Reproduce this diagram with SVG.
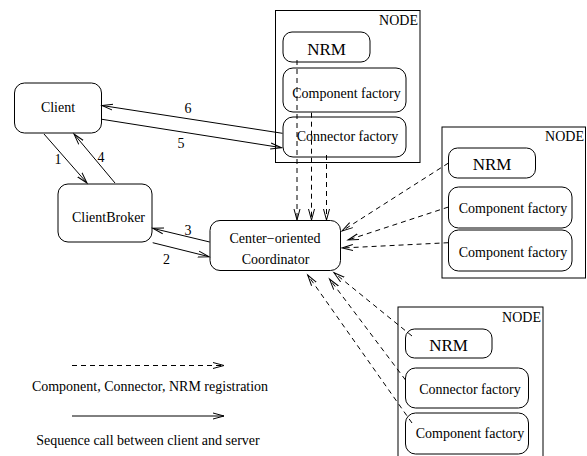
<svg xmlns="http://www.w3.org/2000/svg" width="587" height="456" viewBox="0 0 587 456">
<style>
  .box{fill:none;stroke:#000;stroke-width:1}
  .t{font-family:"Liberation Serif","Times New Roman",serif;font-size:14px;fill:#000;text-anchor:middle}
  .nrm{font-size:17px}
  .lbl{text-anchor:end}
  .ln{fill:none;stroke:#000;stroke-width:1;marker-end:url(#ah)}
  .dash{stroke-dasharray:5,4}
</style>
<defs>
  <marker id="ah" markerUnits="userSpaceOnUse" markerWidth="14" markerHeight="10" refX="11" refY="4" orient="auto">
    <path d="M0,1 L11,4 L0,7" fill="none" stroke="#000" stroke-width="1"/>
  </marker>
</defs>
<rect width="587" height="456" fill="#fff"/>

<g id="node-top">
  <rect class="box" x="275.5" y="10.5" width="144.5" height="152"/>
  <text class="t lbl" x="418" y="25">NODE</text>
  <rect class="box" x="283" y="32" width="87" height="30" rx="9"/>
  <text class="t nrm" x="326.5" y="54.5">NRM</text>
  <rect class="box" x="283" y="68" width="123" height="44" rx="10"/>
  <text class="t" x="346.5" y="98">Component factory</text>
  <rect class="box" x="283" y="117" width="123" height="40" rx="10"/>
  <text class="t" x="347.5" y="141">Connector factory</text>
</g>

<g id="node-right">
  <rect class="box" x="442" y="127" width="143.5" height="151"/>
  <text class="t lbl" x="584" y="141">NODE</text>
  <rect class="box" x="448.5" y="148" width="87" height="30" rx="9"/>
  <text class="t nrm" x="492" y="170">NRM</text>
  <rect class="box" x="448.5" y="187" width="123.5" height="41" rx="10"/>
  <text class="t" x="513" y="213">Component factory</text>
  <rect class="box" x="448.5" y="230" width="123.5" height="41" rx="10"/>
  <text class="t" x="513" y="257">Component factory</text>
</g>

<g id="node-bottom">
  <rect class="box" x="398" y="307" width="145" height="160"/>
  <text class="t lbl" x="541" y="322">NODE</text>
  <rect class="box" x="405.5" y="329" width="86.5" height="29" rx="9"/>
  <text class="t nrm" x="448.5" y="351">NRM</text>
  <rect class="box" x="405.5" y="368" width="123" height="40" rx="10"/>
  <text class="t" x="470" y="394">Connector factory</text>
  <rect class="box" x="405.5" y="413" width="123" height="41" rx="10"/>
  <text class="t" x="470" y="438">Component factory</text>
</g>

<g id="client">
  <rect class="box" x="14.5" y="83" width="87" height="50" rx="10"/>
  <text class="t" x="58" y="112">Client</text>
</g>

<g id="clientbroker">
  <rect class="box" x="58" y="184" width="94" height="58" rx="10"/>
  <text class="t" x="108.5" y="222">ClientBroker</text>
</g>

<g id="coordinator">
  <rect class="box" x="210" y="220.5" width="130.5" height="50" rx="10"/>
  <text class="t" x="275" y="242.5">Center−oriented</text>
  <text class="t" x="275.5" y="264">Coordinator</text>
</g>

<g id="connectors">
  <line class="ln" x1="282.5" y1="133.3" x2="102" y2="105.5"/>
  <line class="ln" x1="102" y1="119.3" x2="281.5" y2="147.7"/>
  <line class="ln" x1="44" y1="134" x2="87" y2="183"/>
  <line class="ln" x1="115" y1="183" x2="74" y2="134"/>
  <line class="ln" x1="209.7" y1="242" x2="152.7" y2="228.3"/>
  <line class="ln" x1="152.7" y1="242.7" x2="209" y2="256.7"/>

  <line class="ln dash" x1="297" y1="60" x2="297" y2="220"/>
  <line class="ln dash" x1="311.5" y1="112.7" x2="311.5" y2="220"/>
  <line class="ln dash" x1="326.5" y1="155" x2="326.5" y2="220"/>

  <line class="ln dash" x1="448.5" y1="163" x2="342" y2="231"/>
  <line class="ln dash" x1="448.5" y1="207" x2="348" y2="240"/>
  <line class="ln dash" x1="448.5" y1="242.7" x2="342" y2="248"/>

  <line class="ln dash" x1="412" y1="336" x2="334" y2="272.7"/>
  <line class="ln dash" x1="405.5" y1="380" x2="329.5" y2="279"/>
  <line class="ln dash" x1="412" y1="423" x2="307.7" y2="275"/>

  <line class="ln dash" x1="72" y1="365.5" x2="224" y2="365.5"/>
  <line class="ln" x1="72" y1="416" x2="224" y2="416"/>
</g>

<g id="labels">
  <text class="t" x="188" y="113">6</text>
  <text class="t" x="181" y="148">5</text>
  <text class="t" x="58" y="164">1</text>
  <text class="t" x="101" y="162">4</text>
  <text class="t" x="188" y="235">3</text>
  <text class="t" x="166.5" y="264">2</text>
</g>

<g id="legend">
  <text class="t" x="150" y="391">Component, Connector, NRM registration</text>
  <text class="t" x="148" y="445">Sequence call between client and server</text>
</g>
</svg>
